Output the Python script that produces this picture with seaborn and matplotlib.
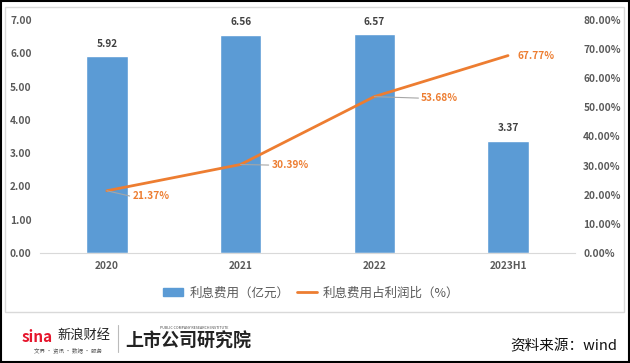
import numpy as np
import pandas as pd
import matplotlib
matplotlib.use("Agg")
import matplotlib.pyplot as plt
import seaborn as sns
from matplotlib.patches import Rectangle
from matplotlib.lines import Line2D

sns.set_style("white")
plt.rcParams['font.family'] = ['Noto Sans CJK SC', 'DejaVu Sans']

# data
periods = ['2020', '2021', '2022', '2023H1']
interest = [5.92, 6.56, 6.57, 3.37]          # 利息费用（亿元）
ratio = [21.37, 30.39, 53.68, 67.77]         # 利息费用占利润比（%）

bar_color = '#5B9BD5'
line_color = '#ED7D31'
tick_color = '#595959'

df = pd.DataFrame({'period': periods, 'interest': interest, 'ratio': ratio})

fig = plt.figure(figsize=(6.3, 3.63), dpi=100)
ax = fig.add_axes([0.0635, 0.303, 0.849, 0.642])

sns.barplot(data=df, x='period', y='interest', color=bar_color, width=0.31,
            saturation=1, ax=ax)
ax.set_ylim(0, 7)
ax.set_yticks(np.arange(0, 8, 1))
ax.set_yticklabels([f'{v:.2f}' for v in np.arange(0, 8, 1)])
ax.set_xlim(-0.5, 3.5)
ax.set_xlabel('')
ax.set_ylabel('')
for s in ['top', 'right', 'left']:
    ax.spines[s].set_visible(False)
ax.spines['bottom'].set_color('#D9D9D9')
ax.tick_params(axis='both', length=0, labelsize=7.3, colors=tick_color, pad=6)
for lab in ax.get_xticklabels() + ax.get_yticklabels():
    lab.set_fontweight('bold')

for i, v in enumerate(interest):
    ax.text(i, v + 0.22, f'{v:.2f}', ha='center', va='bottom', fontsize=7.3,
            fontweight='bold', color='#404040')

ax2 = ax.twinx()
sns.lineplot(x=np.arange(len(periods)), y=ratio, color=line_color, linewidth=2, ax=ax2)
ax2.set_ylim(0, 80)
ax2.set_yticks(np.arange(0, 81, 10))
ax2.set_yticklabels([f'{v:.2f}%' for v in np.arange(0, 81, 10)])
for s in ['top', 'right', 'left', 'bottom']:
    ax2.spines[s].set_visible(False)
ax2.tick_params(axis='y', length=0, labelsize=7.3, colors=tick_color, pad=6)
for lab in ax2.get_yticklabels():
    lab.set_fontweight('bold')

# ratio labels with leader lines (offsets in axis units)
offsets = [(0.19, -1.8), (0.23, -0.2), (0.35, -0.5), (0.07, 0.0)]
for i, (r, (dx, dy)) in enumerate(zip(ratio, offsets)):
    tx, ty = i + dx, r + dy
    if dx > 0.15:
        ax2.plot([i, tx - 0.02], [r, ty], color='#A6A6A6', linewidth=0.8)
    ax2.text(tx, ty, f'{r:.2f}%', ha='left', va='center', fontsize=7.3,
             fontweight='bold', color=line_color)

# legend
handles = [Rectangle((0, 0), 1, 1, color=bar_color),
           Line2D([0], [0], color=line_color, linewidth=2)]
fig.legend(handles, ['利息费用（亿元）', '利息费用占利润比（%）'],
           loc='center', bbox_to_anchor=(0.494, 0.193), ncol=2, frameon=False,
           fontsize=9.0, handlelength=1.6, handletextpad=0.5, columnspacing=0.6,
           labelcolor='#595959')

# inner chart border and outer border
fig.add_artist(Rectangle((5 / 630, 1 - 312 / 363), 619 / 630, 305 / 363,
                         transform=fig.transFigure, fill=False,
                         edgecolor='#D9D9D9', linewidth=1))
fig.add_artist(Rectangle((0.001, 0.002), 0.997, 0.996, transform=fig.transFigure,
                         fill=False, edgecolor='black', linewidth=1.5))

# footer branding
fig.text(22 / 630, 1 - 337 / 363, 'sina', fontsize=11, fontweight='bold',
         style='italic', color='#E6162D', va='center', ha='left')
fig.text(57 / 630, 1 - 335 / 363, '新浪财经', fontsize=9.5, color='#222222',
         va='center', ha='left')
fig.text(34 / 630, 1 - 350 / 363, '文界 · 资讯 · 数据 · 服务', fontsize=4,
         color='#555555', va='center', ha='left')
fig.add_artist(Line2D([118 / 630, 118 / 630], [1 - 325 / 363, 1 - 352 / 363],
                      transform=fig.transFigure, color='#BBBBBB', linewidth=0.8))
fig.text(125 / 630, 1 - 341 / 363, '上市公司研究院', fontsize=13,
         fontweight='bold', style='italic', color='#222222', va='center', ha='left')
fig.text(160 / 630, 1 - 328 / 363, 'PUBLIC COMPANY RESEARCH INSTITUTE',
         fontsize=2.6, color='#444444', va='center', ha='left')
fig.text(617 / 630, 1 - 346 / 363, '资料来源：wind', fontsize=10.5,
         color='#111111', va='center', ha='right')

fig.savefig('out.png', dpi=100)
